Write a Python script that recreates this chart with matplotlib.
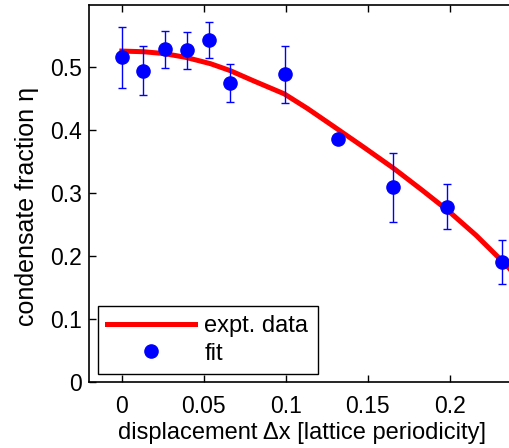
import numpy as np
import matplotlib
matplotlib.use("Agg")
import matplotlib.pyplot as plt

# measured points (blue) with error bars
dx = [0.0, 0.013, 0.0262, 0.0398, 0.0529, 0.0659, 0.0992, 0.132, 0.165, 0.198, 0.232]
eta = [0.516, 0.495, 0.5287, 0.527, 0.5435, 0.4756, 0.4889, 0.3858, 0.3094, 0.2787, 0.1906]
eta_err = [0.048, 0.039, 0.030, 0.030, 0.028, 0.030, 0.045, 0.0, 0.055, 0.036, 0.035]

# red curve
curve_x = [0.0, 0.013, 0.026, 0.039, 0.054, 0.066, 0.08, 0.099, 0.113, 0.127,
           0.147, 0.166, 0.183, 0.199, 0.216, 0.2315, 0.24]
curve_y = [0.526, 0.525, 0.522, 0.516, 0.506, 0.495, 0.479, 0.458, 0.435, 0.410,
           0.374, 0.339, 0.305, 0.272, 0.233, 0.193, 0.170]

xticks = [0, 0.05, 0.1, 0.15, 0.2]
xticklabels = ['0', '0.05', '0.1', '0.15', '0.2']
yticks = [0, 0.1, 0.2, 0.3, 0.4, 0.5]
yticklabels = ['0', '0.1', '0.2', '0.3', '0.4', '0.5']

plt.rcParams['font.family'] = ['Liberation Sans', 'DejaVu Sans']

fig = plt.figure(figsize=(5.1, 4.48), dpi=100)
ax = fig.add_axes([0.1745, 0.1473, 0.8365, 0.8426])

ax.plot(curve_x, curve_y, color='#ff0000', lw=3.6, label='expt. data', zorder=2)
ax.errorbar(dx, eta, yerr=eta_err, fmt='none', ecolor='#0000ff', elinewidth=1.0,
            capsize=2.9, capthick=1.0, zorder=3)
ax.plot(dx, eta, 'o', color='#0000ff', ms=9.5, mec='#0000ff', label='fit', zorder=4)

ax.set_xlim(-0.02, 0.24)
ax.set_ylim(0, 0.6)
ax.set_xticks(xticks)
ax.set_xticklabels(xticklabels)
ax.set_yticks(yticks)
ax.set_yticklabels(yticklabels)
ax.tick_params(direction='in', top=True, right=True, length=5, width=1.0, labelsize=16.5)
ax.tick_params(axis='x', pad=9)
ax.tick_params(axis='y', pad=5)
for s in ax.spines.values():
    s.set_linewidth(1.2)

ax.set_xlabel('displacement \u0394x [lattice periodicity]', fontsize=17, labelpad=3)
ax.set_ylabel('condensate fraction \u03b7', fontsize=18, labelpad=8)
ax.yaxis.label.set_y(0.465)

leg = ax.legend(loc='lower left', bbox_to_anchor=(0.021, 0.021), borderaxespad=0,
                fontsize=17, numpoints=1, handlelength=3.7, fancybox=False,
                edgecolor='black', framealpha=1, borderpad=0.4, labelspacing=0.22,
                handletextpad=0.4)
leg.get_frame().set_linewidth(1.0)

fig.savefig('out.png', dpi=100)
